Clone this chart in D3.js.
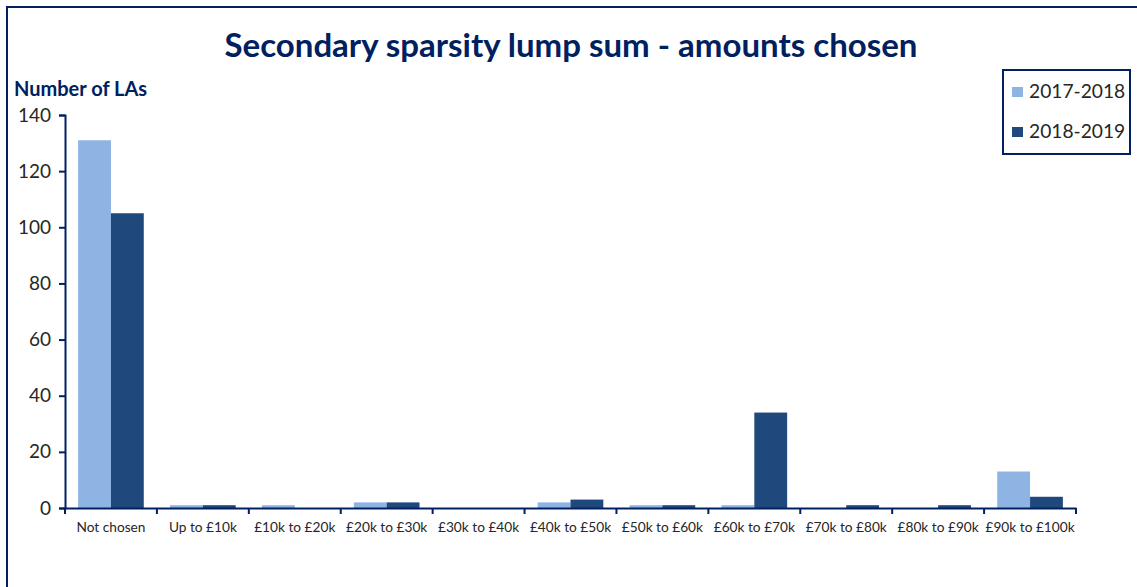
<!DOCTYPE html>
<html>
<head>
<meta charset="utf-8">
<script src="https://cdn.jsdelivr.net/npm/d3@7"></script>
<style>
  body { margin: 0; background: #fff; }
  svg { display: block; }
</style>
</head>
<body>
<svg width="1137" height="587"></svg>
<script>
var categories = ['Not chosen', 'Up to £10k', '£10k to £20k', '£20k to £30k', '£30k to £40k',
  '£40k to £50k', '£50k to £60k', '£60k to £70k', '£70k to £80k', '£80k to £90k', '£90k to £100k'];
var series = ['2017-2018', '2018-2019'];
var values2017 = [131, 1, 1, 2, 0, 2, 1, 1, 0, 0, 13];
var values2018 = [105, 1, 0, 2, 0, 3, 1, 34, 1, 1, 4];
var yTicks = [0, 20, 40, 60, 80, 100, 120, 140];

var colors = ['#8eb4e3', '#1f497d'];
var navy = '#002060';
var font = 'Lato, sans-serif';

var svg = d3.select('svg');
var width = 1137;
var height = 587;

// outer frame
svg.append('rect')
  .attr('x', 7).attr('y', 7)
  .attr('width', width + 20).attr('height', height + 20)
  .attr('fill', 'none')
  .attr('stroke', navy)
  .attr('stroke-width', 2);

var plotLeft = 65, plotRight = 1076, plotTop = 115, plotBottom = 508;

var x = d3.scaleBand()
  .domain(categories)
  .range([plotLeft, plotRight])
  .paddingInner(0)
  .paddingOuter(0);

var xInner = d3.scaleBand()
  .domain(series)
  .range([0, x.bandwidth()])
  .paddingOuter(0.4)
  .paddingInner(0);

var y = d3.scaleLinear()
  .domain([0, 140])
  .range([plotBottom, plotTop]);

var rows = categories.map(function(c, i) {
  return {cat: c, vals: [values2017[i], values2018[i]]};
});

var groups = svg.selectAll('g.cat')
  .data(rows)
  .enter()
  .append('g')
  .attr('class', 'cat')
  .attr('transform', function(d) { return 'translate(' + x(d.cat) + ',0)'; });

groups.selectAll('rect')
  .data(function(d) { return d.vals.map(function(v, j) { return {s: series[j], v: v, j: j}; }); })
  .enter()
  .append('rect')
  .attr('x', function(d) { return xInner(d.s); })
  .attr('width', xInner.bandwidth())
  .attr('y', function(d) { return y(d.v); })
  .attr('height', function(d) { return plotBottom - y(d.v); })
  .attr('fill', function(d) { return colors[d.j]; });

// y axis
var yAxis = svg.append('g')
  .attr('transform', 'translate(' + plotLeft + ',0)')
  .call(d3.axisLeft(y).tickValues(yTicks).tickSize(6).tickPadding(8));
yAxis.select('.domain').attr('stroke', navy).attr('stroke-width', 2);
yAxis.selectAll('.tick line').attr('stroke', navy).attr('stroke-width', 2);
yAxis.selectAll('.tick text')
  .attr('fill', '#262626')
  .style('font-family', font)
  .style('font-size', '19px');

// x axis
var xAxis = svg.append('g')
  .attr('transform', 'translate(0,' + plotBottom + ')')
  .call(d3.axisBottom(x).tickSize(0).tickPadding(14));
xAxis.select('.domain').attr('stroke', navy).attr('stroke-width', 2);
xAxis.selectAll('.tick text')
  .attr('fill', '#262626')
  .style('font-family', font)
  .style('font-size', '13.7px');
// category boundary ticks
xAxis.selectAll('line.sep')
  .data(categories.concat(['end']))
  .enter()
  .append('line')
  .attr('class', 'sep')
  .attr('x1', function(d, i) { return plotLeft + i * x.bandwidth(); })
  .attr('x2', function(d, i) { return plotLeft + i * x.bandwidth(); })
  .attr('y1', 0).attr('y2', 6)
  .attr('stroke', navy)
  .attr('stroke-width', 2);

// title
svg.append('text')
  .attr('x', 571).attr('y', 57)
  .attr('text-anchor', 'middle')
  .attr('fill', navy)
  .style('font-family', font)
  .style('font-weight', 'bold')
  .style('font-size', '33px')
  .text('Secondary sparsity lump sum - amounts chosen');

svg.append('text')
  .attr('x', 14).attr('y', 96)
  .attr('fill', navy)
  .style('font-family', font)
  .style('font-weight', 'bold')
  .style('font-size', '20px')
  .text('Number of LAs');

// legend
var legend = svg.append('g');
legend.append('rect')
  .attr('x', 1003).attr('y', 70)
  .attr('width', 127).attr('height', 84)
  .attr('fill', '#fff')
  .attr('stroke', navy)
  .attr('stroke-width', 2);
var items = legend.selectAll('g.item')
  .data(series)
  .enter()
  .append('g')
  .attr('class', 'item')
  .attr('transform', function(d, i) { return 'translate(1012,' + (87 + i * 40) + ')'; });
items.append('rect')
  .attr('width', 11).attr('height', 10)
  .attr('fill', function(d, i) { return colors[i]; });
items.append('text')
  .attr('x', 17).attr('y', 11)
  .attr('fill', '#262626')
  .style('font-family', font)
  .style('font-size', '19.2px')
  .text(function(d) { return d; });
</script>
</body>
</html>
